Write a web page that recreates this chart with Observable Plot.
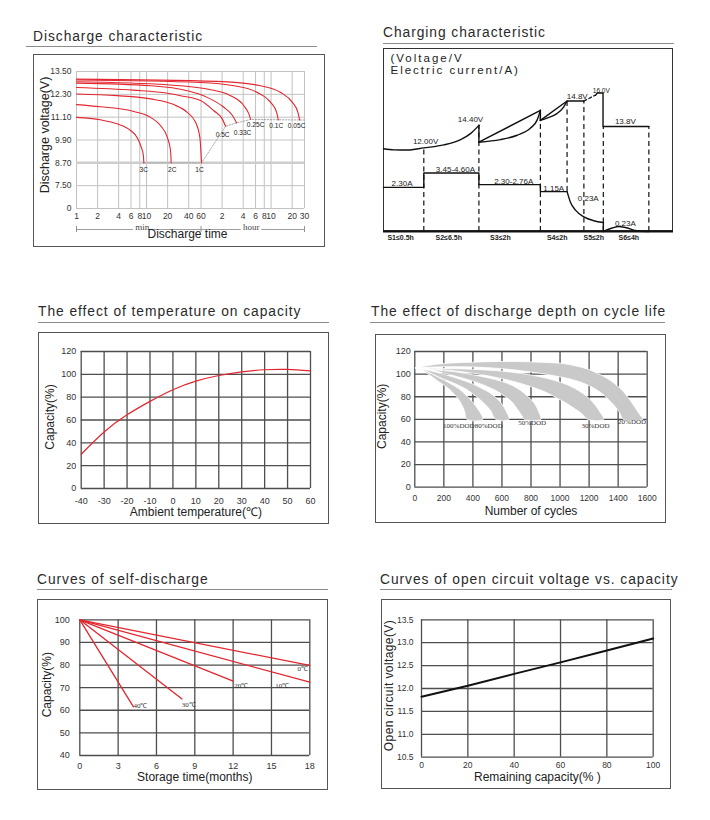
<!DOCTYPE html>
<html><head><meta charset="utf-8">
<script src="https://cdn.jsdelivr.net/npm/d3@7"></script>
<script src="https://cdn.jsdelivr.net/npm/@observablehq/plot@0.6"></script>
<style>
html,body{margin:0;padding:0;background:#fff;}
#root{position:relative;width:710px;height:820px;overflow:hidden;font-family:"Liberation Sans",Arial,sans-serif;}
.title{position:absolute;font-size:13.8px;line-height:14px;color:#2a2a2a;letter-spacing:0.95px;white-space:nowrap;}
.uline{position:absolute;height:0;border-top:1px solid #8c8c8c;}
.box{position:absolute;box-sizing:border-box;border:1.5px solid #555;}
</style></head><body><div id="root"></div>
<script>
// ---------------- DATA ----------------
// Discharge characteristic (time in minutes, voltage in V)
const dischargeRates = ["3C","2C","1C","0.5C","0.33C","0.25C","0.1C","0.05C"];
const dischargeMinutes = [
  [1, 2.2, 3.8, 5.9, 7.4, 8.4, 9.0, 9.15],
  [1, 2.2, 6.6, 11.4, 15.8, 19.8, 22.0, 22.5],
  [1, 3.8, 11.4, 24.5, 38.1, 50.1, 57.7, 61],
  [1, 6.5, 20, 30.6, 59, 90.6, 120.5, 134.5],
  [1, 11.4, 38.1, 73.6, 127, 167.5, 193],
  [1, 19.8, 73.6, 158.5, 245.6, 289, 306],
  [1, 59, 177, 381, 590, 720, 761],
  [1, 102, 425, 821, 1206, 1449, 1534]
];
const dischargeVolts = [
  [11.09, 10.96, 10.75, 10.40, 10.01, 9.52, 9.09, 8.70],
  [11.76, 11.65, 11.40, 11.09, 10.66, 10.04, 9.35, 8.70],
  [12.32, 12.23, 12.06, 11.76, 11.35, 10.83, 10.04, 8.70],
  [12.66, 12.52, 12.36, 12.23, 11.97, 11.45, 11.01, 10.62],
  [12.89, 12.75, 12.49, 12.14, 11.62, 11.20, 10.80],
  [12.96, 12.80, 12.58, 12.23, 11.70, 11.27, 10.98],
  [13.05, 12.92, 12.75, 12.40, 11.88, 11.35, 10.95],
  [13.10, 12.98, 12.75, 12.40, 11.88, 11.35, 10.95]
];
const cutoffMinutes = [9.15, 61, 134.5, 193, 306, 1800];
const cutoffVolts = [8.70, 8.70, 10.62, 10.80, 10.98, 10.95];
const dischargeTimeTicks = [1,2,4,6,8,10,20,40,60,120,240,360,480,600,1200,1800];
const dischargeTimeLabels = ["1","2","4","6","8","10","20","40","60","2","4","6","8","10","20","30"];
const dischargeVoltTicks = [6.3,7.5,8.7,9.9,11.1,12.3,13.5];
const dischargeVoltLabels = ["0","7.50","8.70","9.90","11.10","12.30","13.50"];
const timeUnits = ["min","hour"];
const timeUnitSpans = [[1,60],[60,1800]];
const timeUnitCenters = [8.7, 313];

// Charging characteristic (schematic units 0-100)
const chgS12X = [0, 3.6, 8.2, 13.9, 20.8, 26.6, 30.0, 32.9];
const chgS12V = [45.2, 44.6, 44.5, 45.7, 47.3, 50.2, 53.5, 58.0];
const chgS3X = [32.9, 40.3, 46.1, 50.7, 53.0, 54.1];
const chgS3V = [48.8, 50.2, 52.6, 56.5, 61.0, 66.2];
const chgS4X = [54.1, 56.4, 59.8, 62.1, 63.3];
const chgS4V = [60.7, 62.0, 64.4, 68.0, 71.3];
const chgStepVX = [32.9, 32.9, 32.9, 54.1, 54.1, 54.1, 63.3, 69.1];
const chgStepVY = [58.0, 48.8, 48.8, 66.2, 60.7, 60.7, 71.3, 71.3];
const chgStepVSeg = [1, 1, 2, 2, 2, 3, 3, 3];
const chgBoostDashX = [69.1, 72.9];
const chgBoostDashV = [71.3, 74.4];
const chgEndX = [73.1, 73.7, 75.7, 75.7, 91.5];
const chgEndV = [74.4, 75.7, 75.7, 57.4, 57.4];
const chgCurStepX = [0, 13.9, 13.9, 32.9, 32.9, 54.1, 54.1, 63.3];
const chgCurStepA = [24.1, 24.1, 32.0, 32.0, 25.6, 25.6, 21.8, 21.8];
const chgDecayX = [63.3, 64.5, 66.2, 69.1, 72.5, 75.8];
const chgDecayA = [21.8, 15.9, 11.7, 8.0, 5.9, 4.9];
const chgDropX = [75.8, 75.8];
const chgDropA = [4.9, 0];
const chgHumpX = [75.8, 78.9, 81.1, 83.4, 87.5, 91.5];
const chgHumpA = [0, 1.9, 2.7, 2.2, 0.4, 0];
const chgDashLineX = [13.9, 32.9, 54.1, 63.3, 69.1, 75.8, 91.5];
const chgDashTop = [45.7, 58.0, 66.2, 71.3, 71.3, 57.4, 57.4];
const chgDashBottom = [0, 0, 0, 21.8, 0, 0, 0];
const chgLabelText = ["12.00V","14.40V","14.8V","16.0V","13.8V","2.30A","3.45-4.60A","2.30-2.76A","1.15A","0.23A","0.23A"];
const chgLabelX = [14.5, 30.0, 66.8, 75.1, 83.4, 6.4, 24.8, 44.9, 58.7, 70.6, 83.4];
const chgLabelY = [49.2, 61.0, 73.8, 77.0, 60.2, 26.4, 33.8, 27.5, 23.6, 18.0, 4.6];
const chgStageText = ["S1\u22640.5h","S2\u22646.5h","S3\u22642h","S4\u22642h","S5\u22642h","S6\u22644h"];
const chgStageX = [5.9, 22.5, 40.3, 59.9, 72.5, 84.6];
const chgAxisNote = ["(Voltage/V", "Electric current/A)"];

// Temperature vs capacity
const tempC = [-40,-30,-20,-10,0,10,20,30,40,50,60];
const tempCapacity = [30, 49.5, 64.5, 76.3, 86.5, 94, 99, 102.2, 104, 104.3, 103];
const tempTicks = [-40,-30,-20,-10,0,10,20,30,40,50,60];
const capTicks120 = [0,20,40,60,80,100,120];

// Discharge depth vs cycle life (cycles, capacity %)
const dodNames = ["20%","30%","50%","80%","100%"];
const dod20Outer = [[5,105.5],[166,109],[396,110.6],[626,111.2],[856,110.6],[1006,109.5],[1100,107.5],[1190,104.5],[1260,100.5],[1328,96],[1400,89],[1443,83.5],[1490,75.5],[1524,69],[1550,64],[1570,60]];
const dod20Inner = [[5,105.5],[200,106.5],[400,106.3],[600,104.8],[745,102.8],[860,100.8],[960,98.5],[1060,96],[1144,92.8],[1220,88.5],[1282,83.5],[1330,78],[1374,72],[1410,66],[1435,60]];
const dod30Outer = [[5,105.5],[200,105],[396,104.3],[626,102.3],[760,100],[868,97.5],[960,94.5],[1041,91],[1100,87.5],[1156,83],[1200,78.5],[1240,73],[1275,66.5],[1300,60]];
const dod30Inner = [[5,105.5],[150,104.3],[281,102.8],[400,100.8],[511,98.3],[640,94.8],[741,91.3],[830,87.5],[902,84],[983,78.5],[1041,74.5],[1100,69.5],[1150,65],[1190,60]];
const dod50Outer = [[5,105.5],[120,104],[281,102],[400,99.5],[511,96.5],[600,93.5],[672,90],[730,85.5],[780,80],[830,73],[855,66],[868,60]];
const dod50Inner = [[5,105.5],[100,104],[212,100.5],[300,97.5],[396,94],[480,90],[557,85.5],[620,80.5],[672,75],[712,68],[738,63],[753,60]];
const dod80Outer = [[5,105.5],[100,103.2],[212,99.4],[300,96],[396,91.5],[460,87.5],[511,84],[560,79],[600,73.5],[630,67],[649,60]];
const dod80Inner = [[5,105.5],[80,102.5],[166,97.3],[250,93],[327,88.5],[390,83.5],[442,78.2],[490,72.5],[523,67.5],[557,60]];
const dod100Outer = [[5,105.5],[80,102.3],[166,97],[240,92],[304,87],[360,80.5],[400,75],[440,68],[468,60]];
const dod100Inner = [[5,105.5],[50,103.5],[120,97.5],[180,92],[235,87],[280,81],[315,75],[343,67],[358,60]];
const dodLabelText = ["100%DOD","80%DOD","50%DOD","30%DOD","20%DOD"];
const dodLabelCycles = [303, 509, 808, 1244, 1496];
const dodLabelCap = [54.6, 54.6, 57, 54.6, 58];
const cycleTicks = [0,200,400,600,800,1000,1200,1400,1600];

// Self-discharge
const selfTemps = ["0\u2103","10\u2103","20\u2103","30\u2103","40\u2103"];
const selfEndMonths = [18, 18, 12, 8, 4.2];
const selfEndCapacity = [79.8, 72.4, 72.9, 65, 61.5];
const selfLabelMonths = [17.45, 15.84, 12.63, 8.53, 4.75];
const selfLabelCapacity = [78.2, 70.9, 70.9, 62.4, 61.8];
const monthTicks = [0,3,6,9,12,15,18];
const selfCapTicks = [40,50,60,70,80,90,100];

// Open circuit voltage vs capacity
const ocvCapacity = [0, 20, 40, 60, 80, 100];
const ocvVoltage = [11.82, 12.06, 12.32, 12.57, 12.83, 13.09];
const ocvCapTicks = [0,20,40,60,80,100];
const ocvVoltTicks = [10.5,11.0,11.5,12.0,12.5,13.0,13.5];

// ---------------- RENDER ----------------
const FONT = '"Liberation Sans", Arial, Helvetica, sans-serif';
const NARROW = '"Liberation Sans Narrow", "Arial Narrow", "Liberation Sans", Arial, sans-serif';
const SERIF = '"Liberation Serif", "Times New Roman", serif';
const RED = "#e3262f";
const GRID = "#4e4e4e";
const root = document.getElementById("root");

function addTitle(text, left, baseline, ulLeft, ulRight, ulY) {
  const t = document.createElement("div");
  t.className = "title"; t.textContent = text;
  t.style.left = left + "px"; t.style.top = (baseline - 11.5) + "px";
  root.appendChild(t);
  const u = document.createElement("div");
  u.className = "uline";
  u.style.left = ulLeft + "px"; u.style.width = (ulRight - ulLeft) + "px"; u.style.top = ulY + "px";
  root.appendChild(u);
}
function addBox(left, top, w, h, extra) {
  const b = document.createElement("div");
  b.className = "box";
  b.style.left = left + "px"; b.style.top = top + "px";
  b.style.width = w + "px"; b.style.height = h + "px";
  if (extra) Object.assign(b.style, extra);
  root.appendChild(b);
}
function mount(svg, left, top) {
  svg.style.position = "absolute";
  svg.style.left = left + "px"; svg.style.top = top + "px";
  root.appendChild(svg);
}
const baseStyle = {fontFamily: NARROW, fontSize: "9px", color: "#333", background: "transparent", overflow: "visible"};
const label = (str, opts) => Plot.text([str], {text: d => d, fontFamily: FONT, fill: "#222", textAnchor: "middle", ...opts});
const zip = (xs, ys, extra) => xs.map((x, i) => ({x, y: ys[i], ...(extra ? extra(i) : {})}));
const plain = d => String(d);

// ---- Panel 1: Discharge characteristic
addTitle("Discharge characteristic", 33, 41, 26, 317, 45.5);
addBox(33, 54, 292, 193);
{
  const rows = dischargeRates.flatMap((r, i) => dischargeMinutes[i].map((t, j) => ({rate: r, t, v: dischargeVolts[i][j]})));
  const ends = dischargeRates.map((r, i) => ({rate: r, t: dischargeMinutes[i][dischargeMinutes[i].length - 1], v: dischargeVolts[i][dischargeVolts[i].length - 1]}));
  const offs = [[0,7],[1,7.5],[-2,7],[-3,9],[6,9.5],[5,5.5],[-2,5.5],[-3,5.5]];
  const tickRows = dischargeTimeTicks.map((t, i) => ({t, lab: dischargeTimeLabels[i]}));
  const vl = new Map(dischargeVoltTicks.map((d, i) => [d, dischargeVoltLabels[i]]));
  const cutoff = zip(cutoffMinutes, cutoffVolts);
  const units = timeUnits.map((u, i) => ({u, t: timeUnitCenters[i], a: timeUnitSpans[i][0], b: timeUnitSpans[i][1]}));
  const p1 = Plot.plot({
    width: 292, height: 193, marginLeft: 43, marginRight: 21, marginTop: 17, marginBottom: 39,
    style: {...baseStyle, fontSize: "8.5px"},
    x: {type: "log", domain: [1, 1800], axis: null},
    y: {domain: [6.3, 13.5]},
    marks: [
      Plot.ruleX(dischargeTimeTicks, {stroke: "#c2c2c2", strokeWidth: 1}),
      Plot.ruleY(dischargeVoltTicks, {stroke: "#c2c2c2", strokeWidth: 1}),
      Plot.ruleY([8.7], {stroke: "#cdcdcd", strokeWidth: 2.5}),
      Plot.line(cutoff, {x: "x", y: "y", stroke: "#a0a0a0", strokeWidth: 0.9, strokeDasharray: "1.5,1.5"}),
      Plot.line(rows, {x: "t", y: "v", z: "rate", stroke: RED, strokeWidth: 1.1, curve: "monotone-x"}),
      ...ends.map((d, i) => Plot.text([d], {x: "t", y: "v", text: "rate", dx: offs[i][0], dy: offs[i][1], fontSize: 6.6, fill: "#222"})),
      Plot.text(tickRows, {x: "t", text: "lab", frameAnchor: "bottom", dy: 10.3, fontSize: 8.5, fill: "#333"}),
      Plot.axisY(dischargeVoltTicks, {tickSize: 0, tickPadding: 5, tickFormat: d => vl.get(d), label: null, fontSize: 8.5}),
      Plot.ruleY(units, {y: () => 6.3, x1: "a", x2: "b", dy: 21, stroke: "#777", strokeWidth: 0.7}),
      Plot.ruleX([1, 60, 1800], {y1: 6.3, y2: 6.3, dy: 21, insetTop: -3, insetBottom: -3, stroke: "#777", strokeWidth: 0.8}),
      Plot.text(units, {x: "t", text: "u", frameAnchor: "bottom", dy: 21, fontFamily: SERIF, fontSize: 9, fill: "#444", stroke: "white", strokeWidth: 5, paintOrder: "stroke"}),
      label("Discharge time", {frameAnchor: "bottom", dy: 29.5, fontSize: 12, dx: -3}),
      label("Discharge voltage(V)", {frameAnchor: "left", rotate: -90, dx: -32, dy: -5, fontSize: 12.5})
    ]
  });
  mount(p1, 33, 54);
}

// ---- Panel 2: Charging characteristic
addTitle("Charging characteristic", 383, 37, 383, 674, 42.5);
addBox(383, 48, 290, 183, {borderColor: "#333", borderWidth: "1.3px"});
{
  const curved = [
    ...zip(chgS12X, chgS12V, () => ({s: "a"})),
    ...zip(chgS3X, chgS3V, () => ({s: "b"})),
    ...zip(chgS4X, chgS4V, () => ({s: "c"})),
    ...zip(chgDecayX, chgDecayA, () => ({s: "d"})),
    ...zip(chgHumpX, chgHumpA, () => ({s: "e"}))
  ];
  const straight = [
    ...zip(chgStepVX, chgStepVY, i => ({s: "v" + chgStepVSeg[i]})),
    ...zip(chgEndX, chgEndV, () => ({s: "end"})),
    ...zip(chgCurStepX, chgCurStepA, () => ({s: "cur"})),
    ...zip(chgDropX, chgDropA, () => ({s: "drop"}))
  ];
  const dash = zip(chgBoostDashX, chgBoostDashV);
  const vlines = chgDashLineX.map((x, i) => ({x, y1: chgDashBottom[i], y2: chgDashTop[i]}));
  const labels = chgLabelText.map((t, i) => ({t, x: chgLabelX[i], y: chgLabelY[i], small: t === "16.0V"}));
  const stages = chgStageText.map((t, i) => ({t, x: chgStageX[i]}));
  const p2 = Plot.plot({
    width: 290, height: 199, margin: 0, marginBottom: 16,
    style: {...baseStyle, fontFamily: FONT},
    x: {domain: [0, 100], axis: null},
    y: {domain: [0, 100], axis: null},
    marks: [
      Plot.ruleX(vlines, {x: "x", y1: "y1", y2: "y2", stroke: "#111", strokeWidth: 1.2, strokeDasharray: "5,3.5"}),
      Plot.line(curved, {x: "x", y: "y", z: "s", stroke: "#111", strokeWidth: 1.4, curve: "monotone-x"}),
      Plot.line(straight, {x: "x", y: "y", z: "s", stroke: "#111", strokeWidth: 1.4}),
      Plot.line(dash, {x: "x", y: "y", stroke: "#111", strokeWidth: 1.3, strokeDasharray: "3,2.5"}),
      Plot.ruleY([0], {stroke: "#111", strokeWidth: 2}),
      Plot.text(labels.filter(d => !d.small), {x: "x", y: "y", text: "t", fontSize: 8, fill: "#222"}),
      Plot.text(labels.filter(d => d.small), {x: "x", y: "y", text: "t", fontSize: 6.5, fill: "#222"}),
      Plot.text(stages, {x: "x", text: "t", frameAnchor: "bottom", dy: 8, fontSize: 7, fontWeight: "bold", fill: "#222"}),
      label(chgAxisNote[0], {frameAnchor: "top-left", textAnchor: "start", lineAnchor: "top", dx: 7, dy: 5, fontSize: 11.5}),
      label(chgAxisNote[1], {frameAnchor: "top-left", textAnchor: "start", lineAnchor: "top", dx: 7, dy: 17, fontSize: 11.5})
    ]
  });
  p2.querySelectorAll("text").forEach(t => { if (t.textContent.includes("Voltage") || t.textContent.includes("Electric")) t.setAttribute("letter-spacing", "2"); });
  mount(p2, 383, 48);
}

// ---- Panel 3: Temperature
addTitle("The effect of temperature on capacity", 38, 316.5, 38, 329, 322);
addBox(38, 332, 291, 192);
{
  const p3 = Plot.plot({
    width: 291, height: 192, marginLeft: 42.7, marginRight: 19, marginTop: 19, marginBottom: 36,
    style: baseStyle,
    x: {domain: [-40, 60]}, y: {domain: [0, 120]},
    marks: [
      Plot.ruleX(tempTicks, {stroke: GRID, strokeWidth: 1.3}),
      Plot.ruleY(capTicks120, {stroke: GRID, strokeWidth: 1.3}),
      Plot.line(zip(tempC, tempCapacity), {x: "x", y: "y", stroke: RED, strokeWidth: 1.2, curve: "natural"}),
      Plot.axisX(tempTicks, {tickSize: 0, tickPadding: 9, label: null, fontSize: 9, tickFormat: plain}),
      Plot.axisY(capTicks120, {tickSize: 0, tickPadding: 5, label: null, fontSize: 9, tickFormat: plain}),
      label("Ambient temperature(\u2103)", {frameAnchor: "bottom", dy: 27.5, fontSize: 12}),
      label("Capacity(%)", {frameAnchor: "left", rotate: -90, dx: -31, dy: -3, fontSize: 12})
    ]
  });
  mount(p3, 38, 332);
}

// ---- Panel 4: Discharge depth
addTitle("The effect of discharge depth on cycle life", 371, 316, 370, 665, 321.5);
addBox(375, 334, 291, 189);
{
  const outers = [dod20Outer, dod30Outer, dod50Outer, dod80Outer, dod100Outer];
  const inners = [dod20Inner, dod30Inner, dod50Inner, dod80Inner, dod100Inner];
  const bands = dodNames.flatMap((n, i) => [...outers[i], ...inners[i].slice().reverse()].map(([x, y]) => ({n, x, y})));
  const labs = dodLabelText.map((t, i) => ({t, x: dodLabelCycles[i], y: dodLabelCap[i]}));
  const p4 = Plot.plot({
    width: 291, height: 189, marginLeft: 39.3, marginRight: 19.3, marginTop: 17, marginBottom: 36.3,
    style: baseStyle,
    x: {domain: [0, 1600]}, y: {domain: [0, 120]},
    marks: [
      Plot.ruleX(cycleTicks, {stroke: GRID, strokeWidth: 1.3}),
      Plot.ruleY(capTicks120, {stroke: GRID, strokeWidth: 1.3}),
      Plot.line(bands, {x: "x", y: "y", z: "n", fill: "#c9c9c9", stroke: "white", strokeWidth: 0.8, curve: "catmull-rom"}),
      Plot.text(labs, {x: "x", y: "y", text: "t", fontFamily: SERIF, fontSize: 7, fill: "#333"}),
      Plot.axisX(cycleTicks, {tickSize: 0, tickPadding: 8, label: null, fontSize: 8.5, tickFormat: plain}),
      Plot.axisY(capTicks120, {tickSize: 0, tickPadding: 4, label: null, fontSize: 9, tickFormat: plain}),
      label("Number of cycles", {frameAnchor: "bottom", dy: 28, fontSize: 12}),
      label("Capacity(%)", {frameAnchor: "left", rotate: -90, dx: -32.5, dy: -3, fontSize: 12})
    ]
  });
  mount(p4, 375, 334);
}

// ---- Panel 5: Self-discharge
addTitle("Curves of self-discharge", 37, 584.5, 37, 328, 588.5);
addBox(37, 599, 291, 191);
{
  const lines = selfTemps.flatMap((t, i) => [{t, x: 0, y: 100}, {t, x: selfEndMonths[i], y: selfEndCapacity[i]}]);
  const labs = selfTemps.map((t, i) => ({t, x: selfLabelMonths[i], y: selfLabelCapacity[i]}));
  const p5 = Plot.plot({
    width: 291, height: 191, marginLeft: 42.3, marginRight: 18.7, marginTop: 20.3, marginBottom: 35,
    style: baseStyle,
    x: {domain: [0, 18]}, y: {domain: [40, 100]},
    marks: [
      Plot.ruleX(monthTicks, {stroke: GRID, strokeWidth: 1.3}),
      Plot.ruleY(selfCapTicks, {stroke: GRID, strokeWidth: 1.3}),
      Plot.line(lines, {x: "x", y: "y", z: "t", stroke: RED, strokeWidth: 1.3}),
      Plot.text(labs, {x: "x", y: "y", text: "t", fontFamily: SERIF, fontSize: 7, fill: "#333"}),
      Plot.axisX(monthTicks, {tickSize: 0, tickPadding: 7, label: null, fontSize: 9, tickFormat: plain}),
      Plot.axisY(selfCapTicks, {tickSize: 0, tickPadding: 10, label: null, fontSize: 9, tickFormat: plain}),
      label("Storage time(months)", {frameAnchor: "bottom", dy: 25.5, fontSize: 12}),
      label("Capacity(%)", {frameAnchor: "left", rotate: -90, dx: -32.5, dy: -3, fontSize: 12})
    ]
  });
  mount(p5, 37, 599);
}

// ---- Panel 6: Open circuit voltage
addTitle("Curves of open circuit voltage vs. capacity", 380, 584, 380, 672, 588.5);
addBox(381, 599, 290, 190);
{
  const p6 = Plot.plot({
    width: 290, height: 190, marginLeft: 40, marginRight: 18.3, marginTop: 20.3, marginBottom: 32.3,
    style: baseStyle,
    x: {domain: [0, 100]}, y: {domain: [10.5, 13.5]},
    marks: [
      Plot.ruleX(ocvCapTicks, {stroke: GRID, strokeWidth: 1.3}),
      Plot.ruleY(ocvVoltTicks, {stroke: GRID, strokeWidth: 1.3}),
      Plot.line(zip(ocvCapacity, ocvVoltage), {x: "x", y: "y", stroke: "#111", strokeWidth: 2}),
      Plot.axisX(ocvCapTicks, {tickSize: 0, tickPadding: 4.5, label: null, fontSize: 8.5, tickFormat: plain}),
      Plot.axisY(ocvVoltTicks, {tickSize: 0, tickPadding: 8, label: null, fontSize: 8.5, tickFormat: d => d.toFixed(1)}),
      label("Remaining capacity(% )", {frameAnchor: "bottom", dy: 24, fontSize: 12}),
      label("Open circuit voltage(V)", {frameAnchor: "left", rotate: -90, dx: -32, dy: -3, fontSize: 12})
    ]
  });
  p6.querySelectorAll("text").forEach(t => { if (t.textContent.includes("Open circuit")) t.setAttribute("letter-spacing", "0.4"); });
  mount(p6, 381, 599);
}
</script></body></html>
